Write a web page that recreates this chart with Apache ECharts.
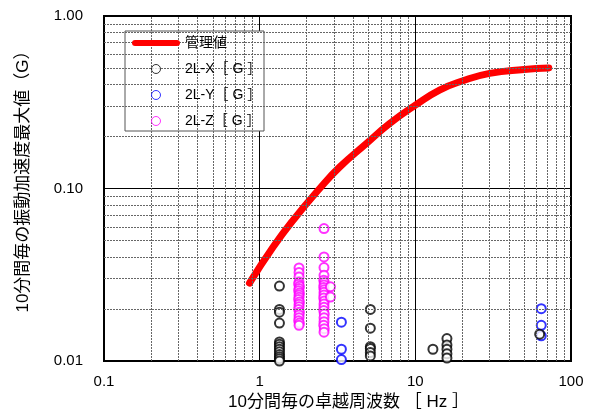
<!DOCTYPE html>
<html><head><meta charset="utf-8">
<script src="https://cdn.jsdelivr.net/npm/echarts@6/dist/echarts.min.js"></script>
<style>html,body{margin:0;padding:0;background:#fff}#c{width:595px;height:418px}</style>
</head><body><div id="c"></div>
<script>
// Management limit curve
const limitFreq = [0.86, 1.22, 1.64, 2.43, 3.26, 4.84, 6.84, 10, 14.3, 20, 30, 50, 72];
const limitVal  = [0.0283, 0.0458, 0.0655, 0.100, 0.133, 0.182, 0.238, 0.304, 0.372, 0.420, 0.465, 0.490, 0.500];

// 2L-X [G]
const xFreq = [1.34,1.34,1.34,1.34,1.34,1.34,1.34,1.34,1.34,1.34,1.34,1.34,1.34,
               5.14,5.14,5.14,5.14,5.14,5.14, 12.97, 15.96,15.96,15.96,15.96,15.96, 62.9];
const xVal  = [0.0272,0.0199,0.0192,0.0166,0.0129,0.0125,0.0121,0.0117,0.0113,0.0109,0.0106,0.0103,0.0100,
               0.0199,0.0155,0.0121,0.0118,0.0112,0.0107, 0.0117, 0.0135,0.0124,0.0117,0.0110,0.0104, 0.0143];

// 2L-Y [G]
const yFreq = [3.35,3.35,3.35, 64.4,64.4,64.4];
const yVal  = [0.0168,0.0117,0.0102, 0.0201,0.0161,0.0140];

// 2L-Z [G]
const zFreq = [1.79,1.79,1.79,1.79,1.78,1.80,1.79,1.78,1.80,1.79,1.79,1.78,1.80,1.79,1.79,1.78,1.80,1.79,1.79,1.78,1.80,1.79,
               2.59,2.59,2.59,2.59,2.58,2.60,2.59,2.58,2.60,2.59,2.59,2.58,2.60,2.59,2.59,2.58,2.60,2.59,2.59,2.58,2.60,2.59,
               2.85,2.85];
const zVal  = [0.0346,0.0326,0.0307,0.0287,0.0279,0.0271,0.0263,0.0255,0.0248,0.0241,0.0234,0.0227,0.0220,0.0213,0.0206,0.0199,0.0192,0.0185,0.0178,0.0171,0.0166,0.0161,
               0.0586,0.0401,0.0348,0.0314,0.0294,0.0285,0.0276,0.0267,0.0259,0.0250,0.0241,0.0232,0.0223,0.0214,0.0205,0.0196,0.0187,0.0178,0.0169,0.0161,0.0154,0.0147,
               0.0269,0.0235];

// minor grid positions
const xMinor = [0.2,0.3,0.4,0.5,0.6,0.7,0.8,0.9, 2,3,4,5,6,7,8,9, 20,30,40,50,60,70,80,90];
const yMinor = [0.02,0.03,0.04,0.05,0.06,0.07,0.08,0.09, 0.2,0.3,0.4,0.5,0.6,0.7,0.8,0.9];

const seriesNames = ['管理値', '2L-X［ G ］', '2L-Y［ G ］', '2L-Z［ G ］'];
const seriesColors = ['#ff0000', '#000000', '#0000ff', '#ff00ff'];
const zip = (a, b) => a.map((v, i) => [v, b[i]]);

const FONT = '"Liberation Sans", "Noto Sans CJK JP", sans-serif';
const chart = echarts.init(document.getElementById('c'), null, {renderer: 'canvas'});
const scatterBase = (name, color, fq, vl) => ({
  name, type: 'scatter', data: zip(fq, vl), symbol: 'emptyCircle', symbolSize: 9,
  itemStyle: {color: color, borderColor: color, borderWidth: 1}, z: 4, silent: true
});
const circleLegend = i => ({name: seriesNames[i], icon: 'circle',
  itemStyle: {color: '#fff', borderColor: seriesColors[i], borderWidth: 1}});
chart.setOption({
  animation: false,
  backgroundColor: '#fff',
  textStyle: {fontFamily: FONT},
  grid: {left: 104, right: 24, top: 16, bottom: 57, show: true, borderColor: '#000', borderWidth: 2, backgroundColor: 'transparent'},
  xAxis: {
    type: 'log', logBase: 10, min: 0.1, max: 100,
    name: '10分間毎の卓越周波数 ［ Hz ］', nameLocation: 'middle', nameGap: 32,
    nameTextStyle: {fontSize: 17, color: '#000', fontFamily: FONT, padding: [0, 0, 0, 22]},
    axisLine: {show: true, lineStyle: {color: '#000', width: 2}},
    axisTick: {show: false},
    axisLabel: {fontSize: 15, color: '#000', margin: 13, fontFamily: FONT,
      formatter: v => (v < 1 ? v.toFixed(1) : String(Math.round(v)))},
    splitLine: {show: true, lineStyle: {color: '#000', width: 1}}
  },
  yAxis: {
    type: 'log', logBase: 10, min: 0.01, max: 1,
    name: '10分間毎の振動加速度最大値（G）', nameLocation: 'middle', nameGap: 72,
    nameTextStyle: {fontSize: 17, color: '#000', fontFamily: FONT, padding: [0, 0, 0, 22]},
    axisLine: {show: true, lineStyle: {color: '#000', width: 2}},
    axisTick: {show: false},
    axisLabel: {fontSize: 15, color: '#000', margin: 21, fontFamily: FONT, formatter: v => v.toFixed(2)},
    splitLine: {show: true, lineStyle: {color: '#000', width: 1}}
  },
  legend: {
    data: [
      {name: seriesNames[0], icon: 'path://M3,0L45,0A3,3,0,0,1,45,6L3,6A3,3,0,0,1,3,0Z',
        itemStyle: {color: seriesColors[0], borderWidth: 0}},
      circleLegend(1), circleLegend(2), circleLegend(3)
    ],
    orient: 'vertical', left: 132, top: 36, padding: 0,
    itemWidth: 48, itemHeight: 9, itemGap: 12, z: 10,
    textStyle: {fontSize: 14, color: '#000', fontFamily: FONT},
    selectedMode: false
  },
  graphic: [{type: 'rect', shape: {x: 125, y: 31, width: 139, height: 100}, z: 5,
    style: {fill: '#fff', stroke: '#555', lineWidth: 1}}],
  series: [
    {type: 'line', data: [], silent: true, z: 1,
      markLine: {silent: true, symbol: 'none', label: {show: false},
        lineStyle: {color: '#666', width: 1, type: [2, 1]},
        data: xMinor.map(v => ({xAxis: v})).concat(yMinor.map(v => ({yAxis: v})))}},
    {name: seriesNames[0], type: 'line', data: zip(limitFreq, limitVal), smooth: 0.5, showSymbol: false, symbol: 'none',
      lineStyle: {color: seriesColors[0], width: 7, cap: 'round', join: 'round'}, itemStyle: {color: seriesColors[0]}, z: 3, silent: true},
    scatterBase(seriesNames[3], seriesColors[3], zFreq, zVal),
    scatterBase(seriesNames[2], seriesColors[2], yFreq, yVal),
    scatterBase(seriesNames[1], seriesColors[1], xFreq, xVal)
  ]
});
</script></body></html>
